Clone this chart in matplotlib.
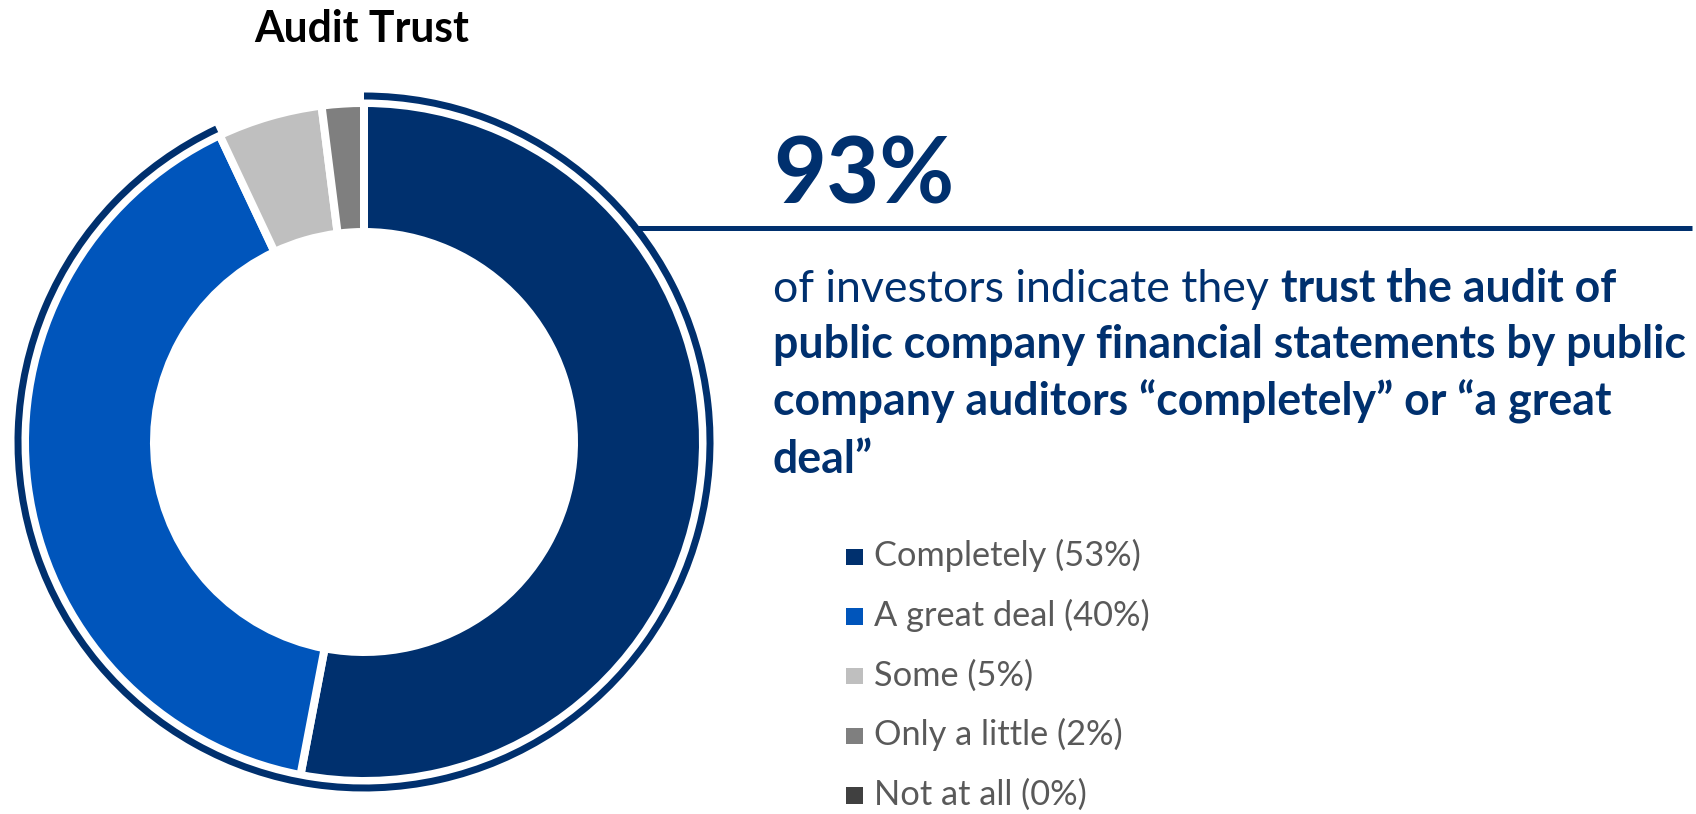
import matplotlib
matplotlib.use('Agg')
import matplotlib.pyplot as plt
from matplotlib.patches import Wedge, Rectangle

# ---- data ----
categories = ["Completely", "A great deal", "Some", "Only a little", "Not at all"]
values = [53, 40, 5, 2, 0]
colors = ["#00306E", "#0055BB", "#BFBFBF", "#7F7F7F", "#404040"]
title = "Audit Trust"
headline = "93%"
body_regular = "of investors indicate they"
body_bold_lines = [
    "trust the audit of",
    "public company financial statements by public",
    "company auditors \u201ccompletely\u201d or \u201ca great",
    "deal\u201d",
]

NAVY = "#00306E"
GRAY_TXT = "#595959"
FONT = "Lato"

W, H = 1696, 814
fig = plt.figure(figsize=(W / 100, H / 100), dpi=100)
ax = fig.add_axes([0, 0, 1, 1])


def Y(y):
    return H - y


PT = 0.72  # points per pixel at 100 dpi

# ---- donut ----
cx, cy = 364, Y(442)
lw_px = 8
R_out = 335 + lw_px / 2
R_in = 214 - lw_px / 2
ax.pie(values, colors=colors, startangle=90, counterclock=False,
       radius=R_out, center=(cx, cy),
       wedgeprops=dict(width=R_out - R_in, edgecolor='white', linewidth=lw_px * PT))

# outer ring around "completely" + "a great deal"
share = (values[0] + values[1]) / sum(values)
ring = Wedge((cx, cy), 349.5, 90 - 360 * share, 90, width=7,
             facecolor=NAVY, edgecolor='none')
ax.add_patch(ring)

# connector line
ax.plot([637, 1692], [Y(228), Y(228)], color=NAVY, lw=5 * PT, solid_capstyle='butt')

ax.set_xlim(0, W)
ax.set_ylim(0, H)
ax.set_aspect('equal')
ax.axis('off')

renderer = fig.canvas.get_renderer()


def width_px(text, size, weight):
    t = ax.text(0, 0, text, fontsize=size, fontweight=weight, family=FONT)
    w = t.get_window_extent(renderer).width
    t.remove()
    return w


def fit(text, target, weight):
    return 20 * target / width_px(text, 20, weight)


# ---- title ----
fs_title = fit(title, 215, 'bold')
ax.text(362, Y(42), title, fontsize=fs_title, fontweight='bold', family=FONT,
        color='black', ha='center', va='baseline')

# ---- headline ----
fs_head = fit(headline, 181, 'bold')
ax.text(773, Y(203), headline, fontsize=fs_head, fontweight='bold', family=FONT,
        color=NAVY, ha='left', va='baseline')

# ---- body ----
fs_body = fit(body_bold_lines[1], 914, 'bold')
baselines = [302, 358, 415, 473]
x0 = 773
w_reg = width_px(body_regular, fs_body, 'normal')
space = 0.27 * fs_body / PT
ax.text(x0, Y(baselines[0]), body_regular, fontsize=fs_body, family=FONT,
        color=NAVY, ha='left', va='baseline')
for i, line in enumerate(body_bold_lines):
    x = x0 + w_reg + space if i == 0 else x0
    ax.text(x, Y(baselines[i]), line, fontsize=fs_body, fontweight='bold', family=FONT,
            color=NAVY, ha='left', va='baseline')

# ---- legend ----
labels = [f"{c} ({v}%)" for c, v in zip(categories, values)]
fs_leg = fit(labels[0], 267, 'normal')
leg_base0 = 566
leg_step = 59.7
sq = 16.5
for i, (lab, col) in enumerate(zip(labels, colors)):
    b = leg_base0 + i * leg_step
    ax.add_patch(Rectangle((846, Y(b - 1)), sq, sq, facecolor=col, edgecolor='none'))
    ax.text(874, Y(b), lab, fontsize=fs_leg, family=FONT, color=GRAY_TXT,
            ha='left', va='baseline')

fig.savefig("out.png", dpi=100)
